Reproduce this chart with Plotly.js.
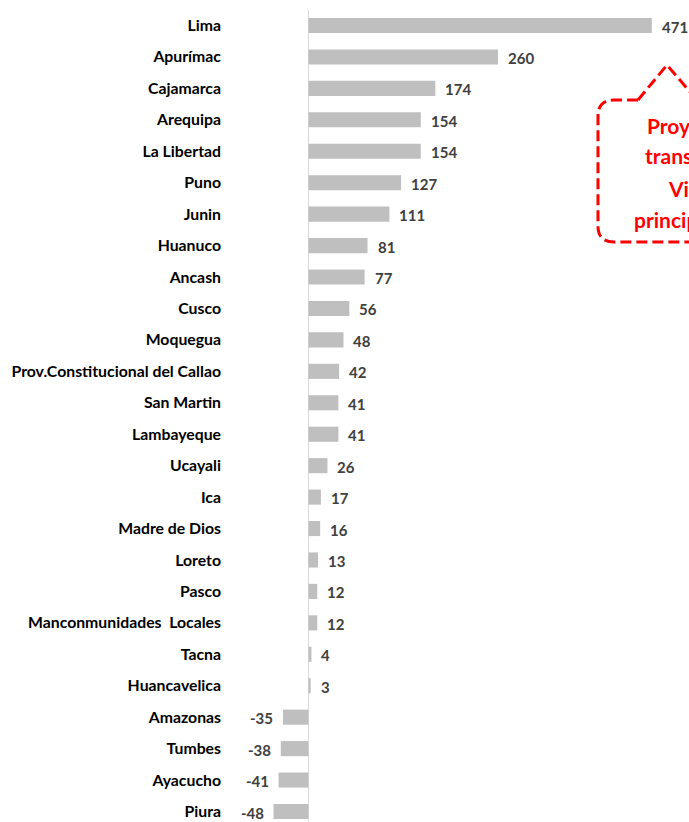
<!DOCTYPE html>
<html>
<head>
<meta charset="utf-8">
<script src="https://cdn.plot.ly/plotly-3.0.1.min.js"></script>
<style>html,body{margin:0;padding:0;background:#fff;}#chart{width:689px;height:822px;}</style>
</head>
<body>
<div id="chart"></div>
<script>
const regiones = ["Lima","Apurímac","Cajamarca","Arequipa","La Libertad","Puno","Junin","Huanuco","Ancash","Cusco","Moquegua","Prov.Constitucional del Callao","San Martin","Lambayeque","Ucayali","Ica","Madre de Dios","Loreto","Pasco","Manconmunidades\u00a0 Locales","Tacna","Huancavelica","Amazonas","Tumbes","Ayacucho","Piura"];
const valores = [471,260,174,154,154,127,111,81,77,56,48,42,41,41,26,17,16,13,12,12,4,3,-35,-38,-41,-48];
const calloutLineas = ["Proyectos","transporte","Vial","principalmente"];

const W = 689, H = 822;
const L = 224, R = 689, T = 10, B = 822;
const zeroPx = 308.5, pxPerUnit = 0.729;
const xmin = (L - zeroPx) / pxPerUnit, xmax = (R - zeroPx) / pxPerUnit;
const rowPx = 31.44, firstRowPx = 25.5;
const ytop = -(firstRowPx - T) / rowPx, ybot = (B - firstRowPx) / rowPx;

const px2x = p => (p - L) / (R - L);
const py2y = p => (B - p) / (B - T);

const font = "Lato, 'Open Sans', sans-serif";

const trace = {
  type: 'bar', orientation: 'h',
  x: valores, y: regiones,
  marker: {color: '#bfbfbf'},
  hoverinfo: 'none',
  width: 0.48
};

const valueAnns = valores.map((v, i) => ({
  x: v, y: regiones[i], xref: 'x', yref: 'y',
  text: '<b>' + v + '</b>', showarrow: false,
  xanchor: v >= 0 ? 'left' : 'right', yanchor: 'middle',
  xshift: v >= 0 ? 8 : -8, yshift: -1,
  font: {family: font, size: 15, color: '#404040'}
}));

const calloutY = [125, 156, 188, 220];
const calloutX = [645, 643, 666, 632];
const calloutAnns = calloutLineas.map((t, i) => ({
  x: px2x(calloutX[i]), y: py2y(calloutY[i]), xref: 'paper', yref: 'paper',
  text: '<b>' + t + '</b>', showarrow: false, xanchor: 'left', yanchor: 'middle',
  font: {family: font, size: 21, color: '#ff0000'}
}));

function P(x, y) { return px2x(x).toFixed(4) + ',' + py2y(y).toFixed(4); }
const calloutPath = 'M' + P(638,100) + ' L' + P(667,65) + ' L' + P(697,100) + ' L' + P(800,100) +
  ' M' + P(638,100) + ' L' + P(614,100) + ' Q' + P(598,100) + ' ' + P(598,116) +
  ' L' + P(598,226) + ' Q' + P(598,242) + ' ' + P(614,242) + ' L' + P(800,242);

const layout = {
  width: W, height: H,
  margin: {l: L, r: W - R, t: T, b: H - B, pad: 0},
  paper_bgcolor: '#ffffff', plot_bgcolor: '#ffffff',
  showlegend: false,
  xaxis: {range: [xmin, xmax], showgrid: false, showticklabels: false, zeroline: true,
          zerolinecolor: '#d9d9d9', zerolinewidth: 1.5, showline: false, ticks: ''},
  yaxis: {type: 'category', range: [ybot, ytop], showgrid: false, zeroline: false, showline: false,
          ticks: '', ticklabelstandoff: 2,
          tickfont: {family: font, size: 15.8, color: '#000000', weight: 'bold'}},
  annotations: valueAnns.concat(calloutAnns),
  shapes: [{type: 'path', xref: 'paper', yref: 'paper', path: calloutPath,
            line: {color: '#ff0000', width: 3, dash: '11px,5px'}}]
};

Plotly.newPlot('chart', [trace], layout, {displayModeBar: false, staticPlot: true});
</script>
</body>
</html>
